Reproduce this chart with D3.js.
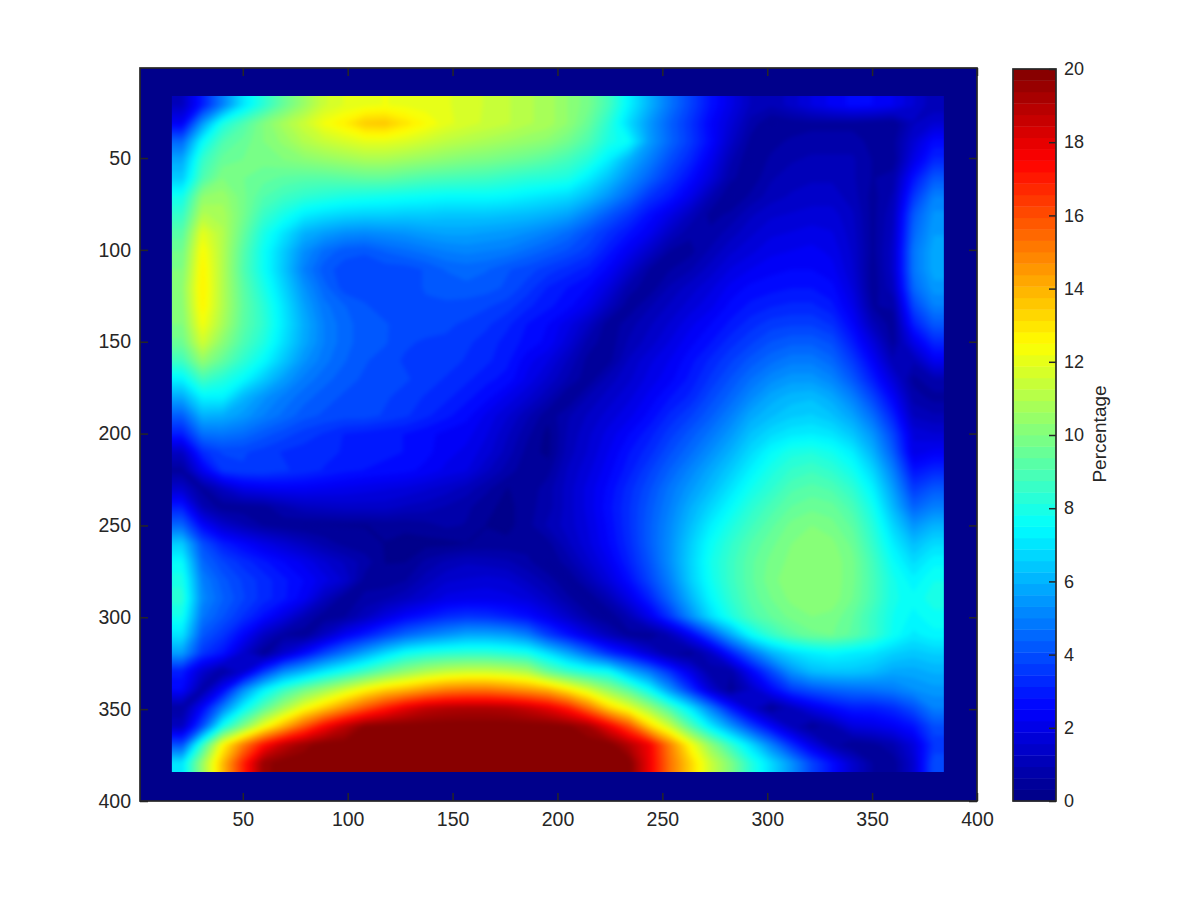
<!DOCTYPE html>
<html><head><meta charset="utf-8">
<script src="https://cdn.jsdelivr.net/npm/d3@7"></script>
<style>html,body{margin:0;background:#fff}svg{display:block}text{font-family:"Liberation Sans",Arial,sans-serif;fill:#262626}</style>
</head><body><svg id="c" width="1200" height="900"></svg>
<script>
const xTicks=[50,100,150,200,250,300,350,400];
const yTicks=[50,100,150,200,250,300,350,400];
const barTicks=[0,2,4,6,8,10,12,14,16,18,20];
const barLabel="Percentage";
const axisDomain=[1,400];
const imageExtent=[16.2,384.2];
const percentage=[
[1.2,3,5,7,8.3,9.5,10.5,11.5,11.9,12.1,12.2,12.1,12,11.9,11.8,11.5,11.3,11,10.8,10.3,9.8,8.8,7.3,6,4.8,3.8,2.8,2,1.2,1,1.4,1.9,2.3,2.6,2.5,2.2,1.6,1],
[2.3,5.5,8,9,10,10.8,11.5,12.3,12.8,13.5,13.6,13,12.5,12,11.7,11.5,11.3,11,10.8,10.3,9.5,8.3,6.8,5.5,4.4,3.5,2.5,1.7,.8,.3,.4,.5,.5,.5,.4,.3,1.2,1.6],
[4.5,7.5,9,9.5,10,10.4,11,11.4,11.7,12,12,11.8,11.5,11.2,11,10.8,10.6,10.4,10.2,9.7,9,8,7.5,5.6,4.5,3.6,2.6,1.4,.5,.5,.7,.8,.8,.8,.5,.5,1.6,2.6],
[5.8,8.5,9.5,9.7,9.8,10,10.2,10.4,10.6,10.8,10.8,10.6,10.4,10.2,10,9.9,9.7,9.5,9.2,8.8,8.2,7.2,6,5,4,3.2,2.2,1,.3,.7,.9,1,1,1,.6,.4,2,3.2],
[6.5,9,10,9.7,9.5,9.3,9.2,9.2,9.3,9.4,9.4,9.2,9,8.9,8.8,8.7,8.5,8.3,8.2,8,7.2,6.3,5.3,4.4,3.5,2.7,1.8,.7,.4,.9,1.1,1.2,1.2,1,.6,.8,2.8,4.2],
[7.8,10.3,10.5,9.8,9.1,8.7,8.4,8.2,8,7.9,7.8,7.7,7.6,7.5,7.5,7.5,7.4,7.2,7,6.8,6.2,5.4,4.5,3.5,2.9,2.1,1,.3,.7,1.1,1.3,1.4,1.4,1.1,.5,1,3.5,5],
[8.5,11,10.8,9.8,8.6,7.9,7.2,6.9,6.7,6.6,6.6,6.5,6.5,6.4,6.4,6.4,6.3,6.2,6,5.7,5,4.2,3.5,2.7,2,1.2,.5,.7,1.2,1.5,1.6,1.7,1.7,1.3,.5,1.2,4.2,5.4],
[9.2,12,11,9.5,8,7,6,5.6,5.3,5.2,5.3,5.4,5.6,5.7,5.7,5.6,5.5,5.3,5,4.6,4,3.4,2.8,2.2,1.3,.7,.7,1.1,1.5,1.8,1.9,2,1.9,1.4,.5,1.3,4.5,5.6],
[9.7,12.5,11,9.2,7.7,6.5,5.3,4.6,4.2,4.1,4.4,4.6,4.8,5,5.1,5,4.9,4.6,4.3,4,3.6,2.9,2.2,1.4,.6,.5,1,1.5,1.8,2.1,2.2,2.3,2.1,1.5,.5,1.4,4.8,5.8],
[10,12.7,11,9.1,7.7,6.4,5,4.2,3.9,3.9,3.9,3.9,4.1,4.4,4.5,4.4,4.1,3.9,3.6,3.3,3,2.4,1.5,.6,.6,.9,1.4,1.9,2.2,2.4,2.5,2.5,2.3,1.6,.4,1.4,4.8,5.8],
[10.3,12.8,11,9.3,8,6.7,5.4,4.5,3.9,3.9,3.9,3.9,4.1,4.2,4.3,4.2,4,3.6,3.1,2.8,2.5,1.8,.8,.4,1,1.4,1.8,2.3,2.6,2.7,2.8,2.8,2.6,1.8,.4,1.2,4.5,5.5],
[10.2,12.7,11,9.4,8.3,7,5.7,4.8,4.4,4.1,3.9,3.9,4,4,3.9,3.8,3.6,3.2,2.9,2.6,2.1,1.2,.4,.9,1.3,1.7,2.1,2.6,2.9,3.1,3.2,3.2,2.9,2.1,.6,.7,3.8,5],
[10,12.3,10.8,9.3,8.4,7.1,5.9,5,4.5,4.2,4.1,3.9,3.9,3.8,3.7,3.5,3.2,2.8,2.5,2,1.3,.4,.8,1.2,1.6,2.1,2.5,2.9,3.3,3.6,3.7,3.7,3.4,2.5,1.1,.4,3,4.2],
[9.6,11.6,10.2,9,8.1,6.9,5.8,5,4.5,4.2,4.1,3.8,3.7,3.7,3.5,3.3,3,2.7,2.4,1.7,.8,.4,1,1.4,1.9,2.4,2.8,3.3,3.7,4.1,4.3,4.3,4,3,1.8,.5,2,3.2],
[8.7,10.4,9.4,8.4,7.5,6.4,5.4,4.8,4.4,4.1,3.9,3.7,3.7,3.6,3.4,3.2,2.9,2.3,1.9,1.2,.5,.5,1.3,1.8,2.2,2.7,3.2,3.7,4.2,4.6,4.9,4.9,4.5,3.6,2.4,1,1,2.2],
[7.3,8.8,8.2,7.5,6.5,5.6,4.9,4.5,4.2,4,3.9,3.8,3.6,3.4,3.2,2.9,2.7,2.1,1.5,.9,.4,1.1,1.5,2,2.4,2.9,3.5,4.1,4.7,5.2,5.5,5.5,5.1,4.2,3,1.7,.5,.9],
[5.8,7.3,7.3,6.1,5.4,4.9,4.5,4.2,4,4,3.8,3.6,3.4,3.2,2.9,2.6,2.1,1.6,1,.3,1,1.4,1.8,2.3,2.8,3.2,3.9,4.5,5.2,5.8,6.1,6.2,5.8,5,3.8,2.4,.8,.5],
[4.3,6,5.9,5.5,5,4.6,4.2,4,3.9,3.9,3.7,3.5,3.2,2.9,2.6,2.1,1.6,1,.4,.9,1.3,1.7,2.1,2.6,3.2,3.7,4.3,5,5.8,6.2,6.5,6.6,6.3,5.7,4.6,3.1,1.2,1],
[3,4.7,4.8,4.6,4.2,3.9,3.6,3.4,3.1,3,2.9,2.8,2.6,2.4,2.3,1.9,1.3,.7,.2,1,1.5,2,2.5,3,3.6,4.2,4.8,5.5,6.3,6.8,7.1,7.2,7,6.4,5.4,3.8,1.8,1.6],
[1.3,3.3,3.8,3.8,3.6,3.4,3.3,3.2,3.1,3,2.9,2.8,2.6,2.3,2.1,1.7,1.1,.5,.2,1.1,1.6,2.2,2.8,3.3,4,4.6,5.3,6,6.8,7.5,8,8.1,7.8,7.2,6,4.3,2,2.3],
[.5,2.2,3.5,3.7,3.7,3.5,3.3,3.1,2.9,2.8,2.7,2.6,2.4,2.1,1.9,1.3,.8,.4,.5,1.3,1.8,2.4,3,3.7,4.4,5.1,5.8,6.5,7.3,8,8.5,8.7,8.4,7.8,6.7,5,2.8,3.2],
[1.5,.5,1.3,2,2.2,2.3,2.3,2.2,2.1,2,1.9,1.8,1.6,1.4,1.1,.7,.3,.4,.8,1.4,2,2.6,3.3,4,4.8,5.5,6.2,7,7.8,8.4,9,9.2,9,8.4,7.3,5.6,3.6,4.2],
[3,1,.4,.4,.5,.9,1.2,1.3,1.4,1.4,1.4,1.2,1.1,.9,.7,.4,.2,.5,.8,1.4,2,2.7,3.4,4.2,5,5.9,6.7,7.5,8.3,8.9,9.4,9.6,9.5,8.9,7.8,6.1,4.4,5],
[4.5,2.5,1.5,1,.6,.4,.3,.3,.3,.3,.4,.4,.5,.7,.6,.3,.2,.5,1,1.4,1.9,2.6,3.4,4.3,5.2,6.2,7.2,8,8.7,9.3,9.8,10,9.8,9.3,8.2,6.7,5.4,6],
[6.5,4,3,2.5,2,1.6,1.2,.8,.5,.4,.3,.2,.2,.2,.3,.4,.4,.5,.5,1.2,1.8,2.5,3.3,4.3,5.3,6.5,7.6,8.4,9.1,9.6,10,10.2,10.1,9.6,8.5,7.2,6.2,6.8],
[7.5,4.5,3.8,3.3,2.9,2.5,2.1,1.6,1.2,.8,.3,.3,.7,1,1.2,1.1,1,.7,.3,.8,1.5,2.2,3.1,4.1,5.3,6.6,7.8,8.6,9.3,9.8,10.1,10.3,10.2,9.8,8.8,7.6,6.8,7.4],
[8,5,4.2,3.7,3.3,2.9,2.5,2,1.5,.5,.4,.6,1.1,1.5,1.6,1.7,1.6,1.2,.8,.3,1,1.8,2.7,3.8,5,6.5,7.7,8.6,9.3,9.9,10.2,10.3,10.2,9.8,8.9,7.9,7.3,7.8],
[8.3,5.2,4.4,3.8,3.3,2.9,2.3,1.2,.4,.7,.9,1.2,1.6,2,2.1,2.1,2,1.8,1.3,.7,.3,1,2,3.1,4.5,6,7.4,8.4,9.2,9.7,10.1,10.3,10.2,9.7,8.9,7.9,7.6,8],
[7.8,4.8,4.1,3.4,2.7,1.9,1,.4,.6,1.2,1.9,2.5,2.9,3.3,3.5,3.4,3.1,2.7,2.1,1.4,.7,.3,1,2.1,3.5,5.2,6.8,8,8.9,9.4,9.8,10,9.9,9.4,8.6,7.8,7.4,7.7],
[7,4.2,3.5,2.5,1.3,.6,.4,1.3,2.3,3,3.8,4.5,5,5.4,5.8,5.8,5.6,5,3.7,2.8,1.9,1.1,.5,.3,1,2.3,4,5.8,7.5,8.5,9.2,9.6,9.7,9.3,8.6,7.7,7.1,7.4],
[5.6,3.5,2.8,1.5,.4,1.5,2.6,3.8,4.8,5.8,6.8,7.7,8.1,8.3,8.4,8.4,8.2,7.9,6.9,5.8,4.6,3.4,2.6,1.6,.7,.4,1.3,3,4.6,6,6.8,7.2,7.4,7.2,7,6.6,6.4,6.6],
[3,1.5,.6,1.5,3.5,5.2,6.1,7.1,7.9,8.7,9.6,10.3,10.9,11.3,11.5,11.5,11.3,10.9,9.5,8.6,8,7.6,6,4.8,3.4,2,.7,.7,2.4,3.9,5.4,6.2,6.4,6.4,6.2,5.8,5.8,6],
[2.5,.7,2.5,5.2,7.2,8.6,9.7,10.6,11.6,12.6,13.4,13.9,14.5,15,15.2,15.2,14.9,14.5,14,12.9,11.7,10.4,9.2,7.6,5.5,3.5,1.6,.4,1.3,2.5,3.6,4.1,4.4,4.6,4.7,4.9,5.3,5.5],
[.6,2.5,5,7.4,9.2,10.8,12.3,13.5,14.7,15.9,17,18,18.7,19,19.1,19.1,19,18.6,18,17,15.3,13.4,12.1,10.6,8.9,7.1,5,3,1.5,.4,1.2,2,2.6,3,3,3.3,4,5],
[1.2,4,7.8,10,12.2,14,15.8,17.5,18.8,19.8,20,20,20,20,20,20,20,20,20,19.8,19.3,17.8,16,13.4,11.5,9.2,7.2,5.5,3.8,2.4,1.2,.4,.9,1.8,2,2.3,2.8,4],
[4,8.5,12.5,15,17.2,18.7,19.5,20,20,20,20,20,20,20,20,20,20,20,20,20,20,20,19,17.7,15,12.5,10.3,8.5,6.8,5,3.3,1.9,.8,.3,.5,.9,1.8,3.5],
[7,10.5,13.8,16.8,19.5,20,20,20,20,20,20,20,20,20,20,20,20,20,20,20,20,20,20,17.8,15.3,13.4,11.5,10,8.2,6.8,5.4,3.8,2.7,1.5,.6,.4,1.5,4]
];
const levels=d3.range(64);
const jetStops=[0,2.5,7.5,12.5,17.5,20];
const jetColors=["rgb(0,0,131)","rgb(0,0,255)","rgb(0,255,255)","rgb(255,255,0)","rgb(255,0,0)","rgb(128,0,0)"];

const svg=d3.select("#c");
const L=140,R=977,T=68,B=801,BL=1013,BR=1056,BT=69,BB=801;
const INK="#262626";
const x=d3.scaleLinear().domain(axisDomain).range([L,R]);
const y=d3.scaleLinear().domain(axisDomain).range([T,B]);
const jet=d3.scaleLinear().domain(jetStops).range(jetColors);
const value=d3.scaleLinear().domain([0,20]).range([BB,BT]);
const level=k=>k*20/64;
const color=k=>jet(level(k+.5));

// the grid is edge-extended so filled bands run past the image rectangle, which then clips them
const pad=2;
const rows=percentage.length,cols=percentage[0].length;
const pRows=rows+2*pad,pCols=cols+2*pad;
const flat=[];
for(let j=-pad;j<rows+pad;j++){
  const row=percentage[Math.max(0,Math.min(rows-1,j))];
  for(let i=-pad;i<cols+pad;i++) flat.push(row[Math.max(0,Math.min(cols-1,i))]);
}
const gx=d3.scaleLinear().domain([pad,cols+pad]).range(imageExtent);
const gy=d3.scaleLinear().domain([pad,rows+pad]).range(imageExtent);
const path=d3.geoPath(d3.geoTransform({point(a,b){this.stream.point(x(gx(a)),y(gy(b)));}}));
const contours=d3.contours().size([pCols,pRows]);

const imgX0=x(imageExtent[0]),imgY0=y(imageExtent[0]),imgW=x(imageExtent[1])-imgX0,imgH=y(imageExtent[1])-imgY0;
const defs=svg.append("defs");
defs.append("clipPath").attr("id","imgClip").append("rect").attr("x",imgX0).attr("y",imgY0).attr("width",imgW).attr("height",imgH);
defs.append("filter").attr("id","soft").attr("filterUnits","userSpaceOnUse").attr("x",60).attr("y",0).attr("width",1000).attr("height",900)
  .attr("color-interpolation-filters","sRGB").append("feGaussianBlur").attr("stdDeviation",2.2);

svg.append("rect").attr("x",L).attr("y",T).attr("width",R-L).attr("height",B-T).attr("fill",color(0));
svg.append("g").attr("clip-path","url(#imgClip)").append("g").attr("filter","url(#soft)")
  .selectAll("path").data(levels.slice(1)).join("path")
  .attr("d",k=>path(contours.contour(flat,level(k))))
  .attr("fill",k=>color(k));

function style(g){
  g.selectAll(".domain").remove();
  g.selectAll(".tick line").attr("stroke",INK).attr("stroke-width",1.5);
  g.selectAll("text").attr("fill",INK).attr("font-size",19.5).attr("font-family","Liberation Sans");
}
const tl=8;
svg.append("g").attr("transform",`translate(0,${B})`).call(d3.axisBottom(x).tickValues(xTicks).tickSize(-tl).tickPadding(11)).call(style);
svg.append("g").attr("transform",`translate(0,${T})`).call(d3.axisTop(x).tickValues(xTicks).tickSize(-tl).tickFormat("")).call(style);
svg.append("g").attr("transform",`translate(${L},0)`).call(d3.axisLeft(y).tickValues(yTicks).tickSize(-tl).tickPadding(9)).call(style);
svg.append("g").attr("transform",`translate(${R},0)`).call(d3.axisRight(y).tickValues(yTicks).tickSize(-tl).tickFormat("")).call(style);
svg.append("rect").attr("x",L).attr("y",T).attr("width",R-L).attr("height",B-T).attr("fill","none").attr("stroke",INK).attr("stroke-width",1.7);

svg.append("g").selectAll("rect").data(levels).join("rect")
  .attr("x",BL).attr("width",BR-BL)
  .attr("y",k=>value(level(k+1)))
  .attr("height",k=>value(level(k))-value(level(k+1))+.4)
  .attr("fill",k=>color(k));
const ba=svg.append("g").attr("transform",`translate(${BR},0)`).call(d3.axisRight(value).tickValues(barTicks).tickSize(-7).tickPadding(8)).call(style);
ba.selectAll("text").attr("font-size",18);
svg.append("rect").attr("x",BL).attr("y",BT).attr("width",BR-BL).attr("height",BB-BT).attr("fill","none").attr("stroke",INK).attr("stroke-width",1.7);
svg.append("text").attr("transform","translate(1106,434) rotate(-90)").attr("text-anchor","middle").attr("font-size",19).text(barLabel);
</script></body></html>
